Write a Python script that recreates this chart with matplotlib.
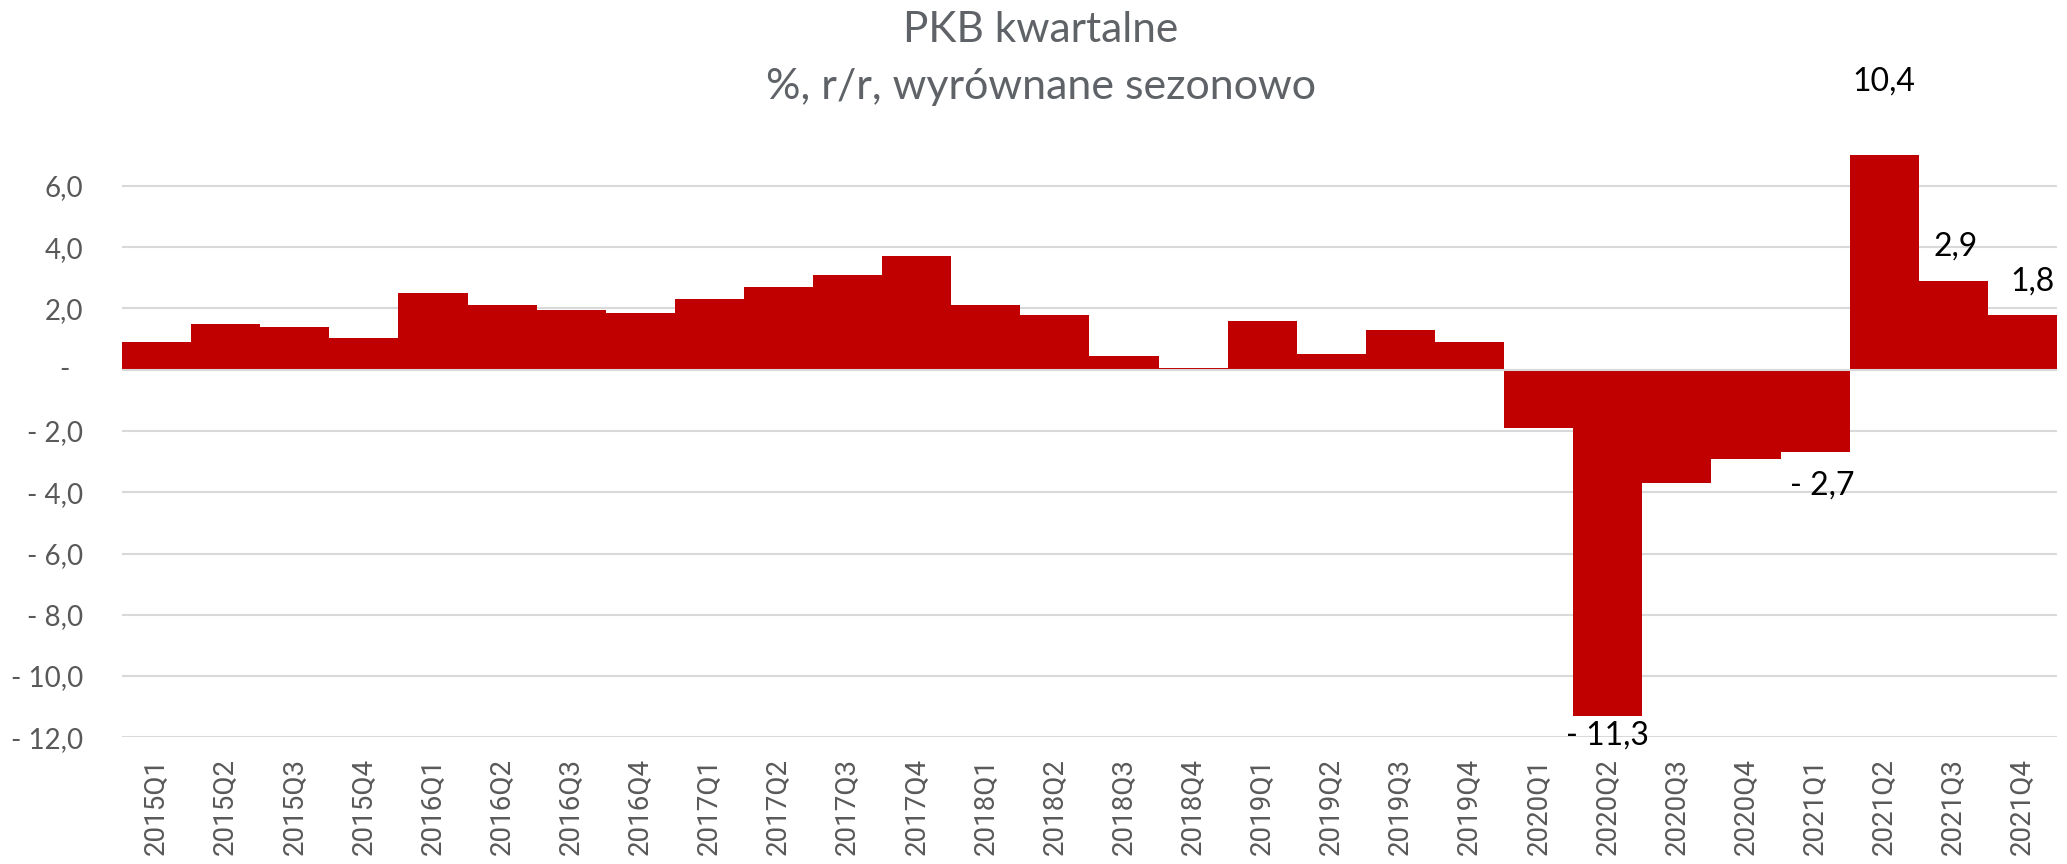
import numpy as np
import matplotlib
matplotlib.use("Agg")
import matplotlib.pyplot as plt

# PKB kwartalne, % r/r, wyrownane sezonowo
quarters = [f"{y}Q{q}" for y in range(2015, 2022) for q in range(1, 5)]
gdp = [
    0.9, 1.5, 1.4, 1.05,      # 2015
    2.5, 2.1, 1.94, 1.86,     # 2016
    2.3, 2.7, 3.1, 3.7,       # 2017
    2.1, 1.8, 0.45, 0.05,     # 2018
    1.6, 0.5, 1.3, 0.9,       # 2019
    -1.9, -11.3, -3.7, -2.9,  # 2020
    -2.7, 10.4, 2.9, 1.8,     # 2021
]
labelled = ["2020Q2", "2021Q1", "2021Q2", "2021Q3", "2021Q4"]
yticks = [-12, -10, -8, -6, -4, -2, 0, 2, 4, 6]

RED = "#C00000"
GREY = "#595959"
TITLE = "#5F6367"
GRID = "#D9D9D9"
W, H = 2067, 864


def fmt(v):
    s = f"{abs(v):.1f}".replace(".", ",")
    return "- " + s if v < 0 else s


fig = plt.figure(figsize=(W / 100, H / 100), dpi=100)
ax = fig.add_axes([122 / W, 1 - 737.3 / H, (2057 - 122) / W, (737.3 - 155.3) / H])

x = np.arange(len(quarters))
ax.bar(x, gdp, width=1.0, color=RED, zorder=2)
ax.set_xlim(-0.5, len(quarters) - 0.5)
ax.set_ylim(-12, 7)

ax.set_yticks(yticks)
ax.set_yticklabels(["" if t == 0 else fmt(t) for t in yticks],
                   family="Lato", fontsize=20, color=GREY)
ax.annotate("-", xy=(0, 0), xycoords=("axes fraction", "data"),
            xytext=(-37.5, 0), textcoords="offset points",
            ha="right", va="center", family="Lato", fontsize=20, color=GREY)
ax.set_xticks(x)
ax.set_xticklabels(quarters, rotation=90, family="Roboto", fontsize=20, color=GREY)
ax.tick_params(axis="y", length=0, pad=28)
ax.tick_params(axis="x", length=0, pad=15)

ax.grid(axis="y", color=GRID, lw=1.5, zorder=0)
ax.axhline(0, color=GRID, lw=1.5, zorder=3)
ax.set_axisbelow(True)
for s in ax.spines.values():
    s.set_visible(False)

# data labels: offsets in points from the (clipped) bar end
offsets = {"2020Q2": (0, -14), "2021Q1": (5, -24), "2021Q2": (0, 53),
           "2021Q3": (2, 25), "2021Q4": (7, 24)}
ymin, ymax = ax.get_ylim()
for q in labelled:
    i = quarters.index(q)
    v = gdp[i]
    dx, dy = offsets[q]
    ax.annotate(fmt(v), (i, min(max(v, ymin), ymax)), xytext=(dx, dy),
                textcoords="offset points", ha="center", va="center",
                family="Lato", fontsize=23, color="black", annotation_clip=False)

fig.text(1041 / W, 1 - 42 / H, "PKB kwartalne", ha="center", va="baseline",
         family="Lato", fontsize=30.5, color=TITLE)
fig.text(1041 / W, 1 - 99 / H, "%, r/r, wyrównane sezonowo", ha="center", va="baseline",
         family="Lato", fontsize=31, color=TITLE)

fig.savefig("out.png", dpi=100)
